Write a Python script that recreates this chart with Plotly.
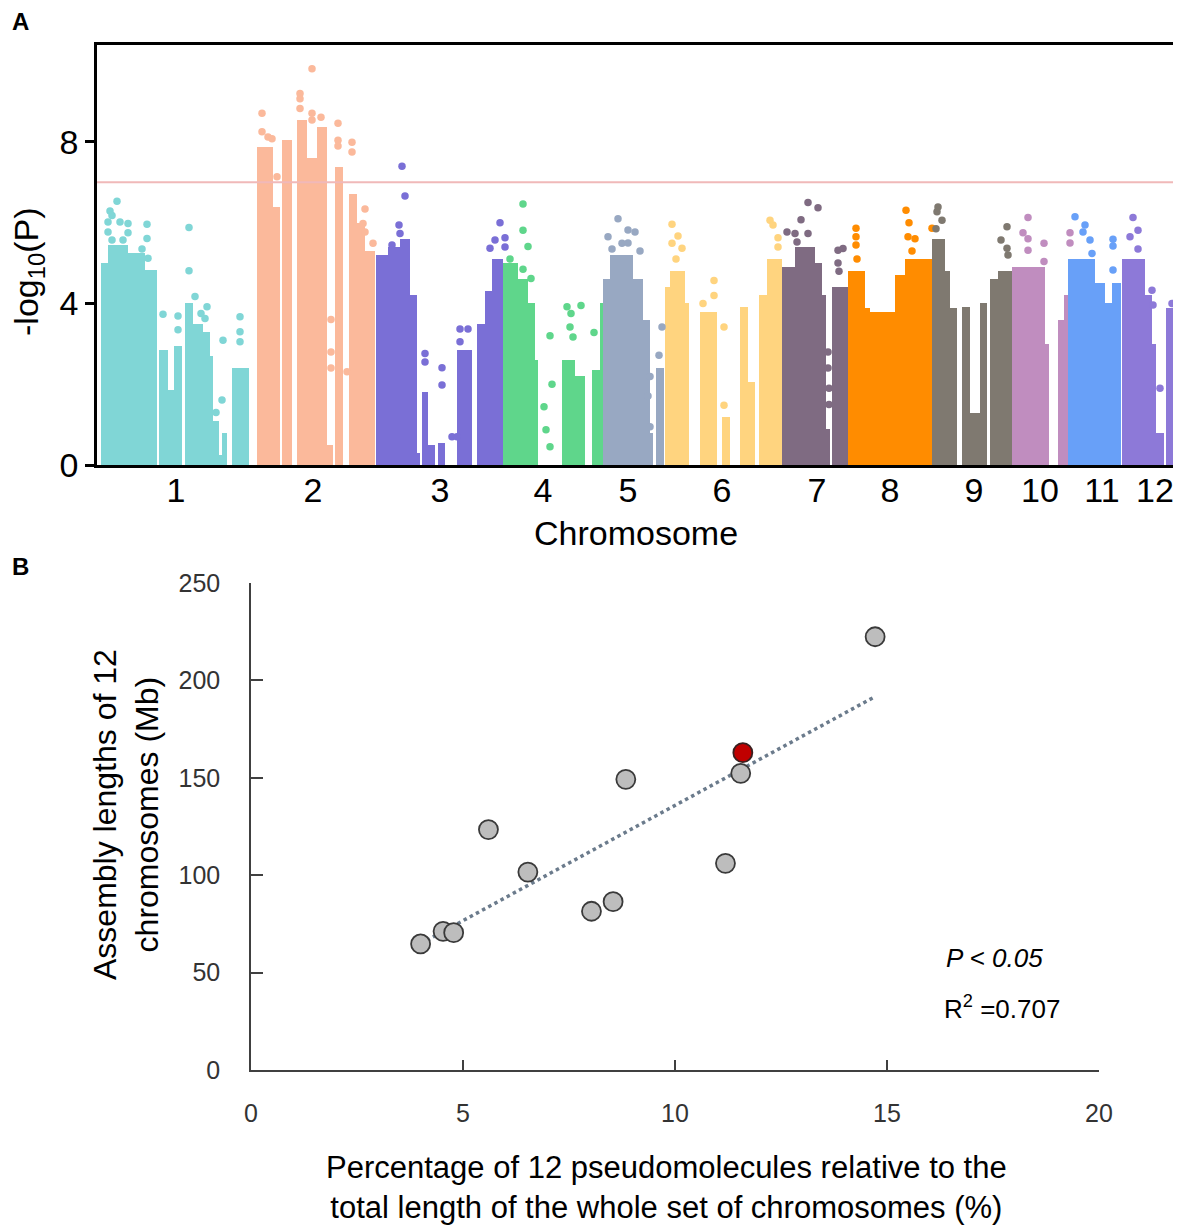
import numpy as np
import plotly.graph_objects as go

# ---------------- Panel A: Manhattan plot ----------------
chrom_names = ["1", "2", "3", "4", "5", "6", "7", "8", "9", "10", "11", "12"]
chrom_colors = ["#80d6d6", "#fbb99b", "#7a6fd6", "#5fd68b", "#98a8c2", "#ffd47f",
                "#7f6b82", "#ff8c00", "#7f7970", "#c08dbf", "#68a0f8", "#8d79d8"]
chrom_label_pos = [176, 313, 440, 543, 628, 722, 817, 890, 974, 1040, 1102, 1155]

# dense blocks of SNPs: chromosome index, start, end (cumulative position), top -log10(P)
seg_chrom = [0]*15 + [1]*11 + [2]*12 + [3]*8 + [4]*6 + [5]*9 + [6]*6 + [7]*5 + [8]*8 + [9]*4 + [10]*4 + [11]*5
seg_start = [101, 108, 128, 145, 159, 168, 174, 185, 193, 203, 210, 213, 219, 222, 232,
             257, 273, 282, 297, 307, 317, 327, 335, 349, 357, 365,
             376, 388, 400, 410, 417, 422, 428, 438, 457, 477, 485, 492,
             503, 518, 528, 535, 562, 575, 592, 600,
             603, 610, 633, 643, 650, 656,
             665, 670, 685, 700, 722, 740, 748, 759, 767,
             782, 795, 815, 822, 826, 832,
             848, 865, 870, 895, 905,
             932, 945, 950, 962, 970, 980, 990, 998,
             1012, 1045, 1058, 1064,
             1068, 1095, 1105, 1112,
             1122, 1145, 1152, 1156, 1166]
seg_end = [108, 128, 145, 157, 168, 174, 182, 193, 203, 210, 213, 219, 222, 227, 249,
           273, 280, 292, 307, 317, 327, 333, 343, 357, 365, 375,
           388, 400, 410, 417, 420, 428, 435, 445, 472, 485, 492, 503,
           518, 528, 535, 538, 575, 585, 600, 603,
           610, 633, 643, 650, 653, 664,
           670, 685, 689, 717, 730, 748, 755, 767, 782,
           795, 815, 822, 826, 830, 848,
           865, 870, 895, 905, 932,
           945, 950, 957, 970, 982, 987, 998, 1012,
           1045, 1049, 1064, 1068,
           1095, 1105, 1112, 1121,
           1145, 1152, 1156, 1164, 1180]
seg_top = [4.99, 5.45, 5.24, 4.82, 2.84, 1.85, 2.95, 4.0, 3.5, 3.3, 2.7, 1.1, 0.25, 0.8, 2.4,
           7.88, 6.4, 8.06, 8.54, 7.6, 8.38, 0.5, 7.38, 6.7, 6.0, 5.3,
           5.2, 5.4, 5.6, 4.2, 0.3, 1.82, 0.5, 0.54, 2.85, 3.5, 4.3, 5.1,
           5.0, 4.6, 4.0, 2.6, 2.6, 2.2, 2.35, 4.0,
           4.6, 5.2, 4.6, 3.6, 0.8, 2.39,
           4.4, 4.8, 4.0, 3.8, 1.2, 3.92, 2.06, 4.2, 5.1,
           4.9, 5.4, 5.0, 4.2, 0.9, 4.4,
           4.8, 3.9, 3.8, 4.7, 5.1,
           5.6, 4.8, 3.9, 3.92, 1.3, 4.0, 4.6, 4.8,
           4.9, 3.0, 3.6, 4.2,
           5.1, 4.5, 4.0, 4.5,
           5.1, 4.2, 3.0, 0.8, 3.9]

# individual SNPs standing out above the dense blocks
dot_chrom = [0]*29 + [1]*25 + [2]*19 + [3]*17 + [4]*13 + [5]*14 + [6]*15 + [7]*10 + [8]*8 + [9]*8 + [10]*8 + [11]*9
dot_pos = [117, 110, 112, 108, 120, 128, 147, 108, 128, 147, 112, 123, 142, 148, 163, 178, 178, 189, 189, 195,
           207, 201, 205, 222, 223, 240, 240, 240, 216,
           262, 262, 268, 272, 300, 300, 300, 312, 312, 312, 321, 331, 331, 331, 338, 338, 338, 347, 352, 352,
           365, 363, 365, 373, 277,
           402, 405, 399, 400, 392, 425, 425, 442, 442, 452, 460, 468, 460, 500, 495, 505, 490, 505, 457,
           523, 523, 528, 523, 531, 510, 550, 552, 544, 546, 550, 567, 581, 571, 570, 573, 594,
           618, 608, 628, 635, 622, 628, 612, 640, 650, 648, 650, 662, 659,
           672, 678, 682, 672, 676, 714, 703, 714, 724, 724, 770, 773, 778, 778,
           808, 818, 801, 787, 795, 808, 797, 838, 843, 838, 839, 828, 828, 829, 829,
           856, 856, 856, 857, 906, 909, 908, 915, 932, 912,
           938, 937, 942, 936, 1007, 1001, 1007, 1008,
           1028, 1023, 1028, 1044, 1028, 1044, 1070, 1070,
           1075, 1085, 1083, 1090, 1092, 1113, 1113, 1113,
           1133, 1138, 1130, 1138, 1152, 1153, 1160, 1177, 1172]
dot_val = [6.53, 6.29, 6.18, 6.02, 6.02, 5.98, 5.96, 5.77, 5.75, 5.61, 5.57, 5.57, 5.35, 5.12, 3.73, 3.69, 3.35, 5.88, 4.81, 4.17,
           3.92, 3.75, 3.63, 1.61, 3.09, 3.67, 3.3, 3.05, 1.3,
           8.71, 8.25, 8.12, 8.08, 9.2, 9.07, 8.83, 9.81, 8.71, 8.54, 8.61, 3.6, 2.8, 2.4, 8.46, 8.04, 7.9, 2.31, 7.99, 7.75,
           6.34, 5.98, 5.77, 5.49, 7.14,
           7.40, 6.66, 5.94, 5.73, 5.45, 2.76, 2.55, 2.41, 1.98, 0.7, 3.37, 3.37, 3.05, 6.0, 5.57, 5.63, 5.37, 5.4, 0.7,
           6.46, 5.81, 5.41, 4.85, 4.62, 5.1, 3.20, 2.0, 1.44, 0.87, 0.45, 3.92, 3.95, 3.75, 3.42, 3.17, 3.28,
           6.1, 5.65, 5.82, 5.77, 5.49, 5.5, 5.35, 5.3, 2.19, 1.71, 0.95, 3.42, 2.72,
           5.96, 5.67, 5.37, 5.49, 5.1, 4.57, 4.0, 4.2, 3.42, 1.48, 6.06, 5.94, 5.63, 5.4,
           6.5, 6.37, 6.07, 5.77, 5.73, 5.73, 5.52, 5.32, 5.36, 5.0, 4.8, 2.8, 2.4, 1.9, 1.5,
           5.86, 5.65, 5.45, 5.1, 6.31, 6.0, 5.65, 5.6, 5.86, 5.3,
           6.39, 6.27, 6.06, 5.85, 5.9, 5.57, 5.37, 5.2,
           6.13, 5.75, 5.6, 5.49, 5.32, 5.04, 5.75, 5.5,
           6.15, 5.94, 5.77, 5.57, 5.24, 5.59, 5.42, 4.83,
           6.13, 5.81, 5.65, 5.35, 4.33, 3.96, 1.9, 5.42, 4.0]

threshold = 7.0
manh_ytick = [0, 4, 8]

# ---------------- Panel B: scatter ----------------
pct_grey = [4.00, 4.53, 4.78, 5.60, 6.53, 8.03, 8.54, 8.84, 11.19, 11.55, 14.72]
len_grey = [64.7, 71.2, 70.5, 123.4, 101.6, 81.5, 86.4, 149.2, 106.1, 152.3, 222.4]
pct_red = [11.60]
len_red = [162.9]
scat_xtick = [0, 5, 10, 15, 20]
scat_ytick = [0, 50, 100, 150, 200, 250]

FONT = "Liberation Sans, Arial, sans-serif"
PAGE_MARGIN = 8          # default body margin of the html page
W, H = 1181 - PAGE_MARGIN, 1227 - PAGE_MARGIN

fig = go.Figure()

# Manhattan blocks and dots
for ci, name in enumerate(chrom_names):
    idx = [i for i, c in enumerate(seg_chrom) if c == ci]
    xs = [(seg_start[i] + seg_end[i]) / 2 for i in idx]
    ws = [seg_end[i] - seg_start[i] for i in idx]
    ys = [seg_top[i] for i in idx]
    fig.add_trace(go.Bar(x=xs, y=ys, width=ws, marker=dict(color=chrom_colors[ci], line=dict(width=0)),
                         xaxis="x", yaxis="y", showlegend=False, hoverinfo="skip"))
    didx = [i for i, c in enumerate(dot_chrom) if c == ci]
    fig.add_trace(go.Scatter(x=[dot_pos[i] for i in didx], y=[dot_val[i] for i in didx], mode="markers",
                             marker=dict(color=chrom_colors[ci], size=7.5, line=dict(width=0)),
                             xaxis="x", yaxis="y", showlegend=False, hoverinfo="skip"))

# threshold line
fig.add_trace(go.Scatter(x=[97, 1180], y=[threshold, threshold], mode="lines",
                         line=dict(color="#f0b9b9", width=2), xaxis="x", yaxis="y",
                         showlegend=False, hoverinfo="skip"))

# Scatter panel: regression line
all_x = np.array(pct_grey + pct_red)
all_y = np.array(len_grey + len_red)
slope, intercept = np.polyfit(all_x, all_y, 1)
lx = np.array([all_x.min(), all_x.max()])
fig.add_trace(go.Scatter(x=lx, y=slope * lx + intercept, mode="lines",
                         line=dict(color="#6b7b8c", width=3.5, dash="dot"),
                         xaxis="x2", yaxis="y2", showlegend=False))
fig.add_trace(go.Scatter(x=pct_grey, y=len_grey, mode="markers",
                         marker=dict(size=19, color="#bdbdbd", line=dict(color="#3a3a3a", width=1.8)),
                         xaxis="x2", yaxis="y2", showlegend=False))
fig.add_trace(go.Scatter(x=pct_red, y=len_red, mode="markers",
                         marker=dict(size=19, color="#c00000", line=dict(color="#3a2020", width=1.8)),
                         xaxis="x2", yaxis="y2", showlegend=False))

def px_x(p):
    return (p - PAGE_MARGIN) / W

def px_y(p):
    return 1 - (p - PAGE_MARGIN) / H

fig.update_layout(
    width=W, height=H, margin=dict(l=0, r=0, t=0, b=0, autoexpand=False),
    paper_bgcolor="white", plot_bgcolor="white",
    barmode="overlay", bargap=0,
    font=dict(family=FONT, color="#000000"),
    xaxis=dict(domain=[px_x(97), px_x(1180)], range=[97, 1180], anchor="y", automargin=False,
               tickvals=chrom_label_pos, ticktext=chrom_names, ticks="",
               tickfont=dict(size=34, color="#000"), ticklabelstandoff=-7, ticklabeloverflow="allow",
               showline=True, linecolor="#000", linewidth=2.5, mirror=True,
               showgrid=False, zeroline=False, fixedrange=True),
    yaxis=dict(domain=[px_y(465), px_y(45)], range=[0, 10.4], anchor="x", automargin=False,
               tickvals=manh_ytick, ticks="outside", ticklen=9, tickwidth=2.5, tickcolor="#000",
               tickfont=dict(size=34, color="#000"),
               showline=True, linecolor="#000", linewidth=2.5, mirror=True,
               showgrid=False, zeroline=False),
    xaxis2=dict(domain=[px_x(251), px_x(1099)], range=[0, 20], anchor="y2", automargin=False,
                tickvals=scat_xtick, ticks="inside", ticklen=10, tickwidth=1.5, tickcolor="#404040",
                tickfont=dict(size=25, color="#333"), ticklabelstandoff=20,
                showline=True, linecolor="#404040", linewidth=1.5,
                showgrid=False, zeroline=False),
    yaxis2=dict(domain=[px_y(1070), px_y(583)], range=[0, 250], anchor="x2", automargin=False,
                tickvals=scat_ytick, ticks="inside", ticklen=12, tickwidth=1.5, tickcolor="#404040",
                tickfont=dict(size=25, color="#333"), ticklabelstandoff=24,
                showline=True, linecolor="#404040", linewidth=1.5,
                showgrid=False, zeroline=False),
)

ann = [
    dict(text="<b>A</b>", x=px_x(10), y=px_y(21), xanchor="left", yanchor="middle", font=dict(size=24)),
    dict(text="<b>B</b>", x=px_x(10), y=px_y(566), xanchor="left", yanchor="middle", font=dict(size=24)),
    dict(text="-log<sub>10</sub>(P)", x=px_x(28), y=px_y(272), xanchor="center", yanchor="middle",
         textangle=-90, font=dict(size=34)),
    dict(text="Chromosome", x=px_x(636), y=px_y(533), xanchor="center", yanchor="middle", font=dict(size=34)),
    dict(text="Assembly lengths of 12<br>chromosomes (Mb)", x=px_x(126), y=px_y(815),
         xanchor="center", yanchor="middle", textangle=-90, font=dict(size=32)),
    dict(text="Percentage of 12 pseudomolecules relative to the<br>total length of the whole set of chromosomes (%)",
         x=px_x(666), y=px_y(1187), xanchor="center", yanchor="middle", font=dict(size=31)),
    dict(text="<i>P &lt; 0.05</i>", x=px_x(944), y=px_y(958), xanchor="left", yanchor="middle",
         font=dict(size=26)),
    dict(text="R<sup>2</sup> =0.707", x=px_x(942), y=px_y(1007), xanchor="left", yanchor="middle",
         font=dict(size=26)),
]
for a in ann:
    a.update(xref="paper", yref="paper", showarrow=False)
fig.update_layout(annotations=ann)

fig.write_html("out.html")
